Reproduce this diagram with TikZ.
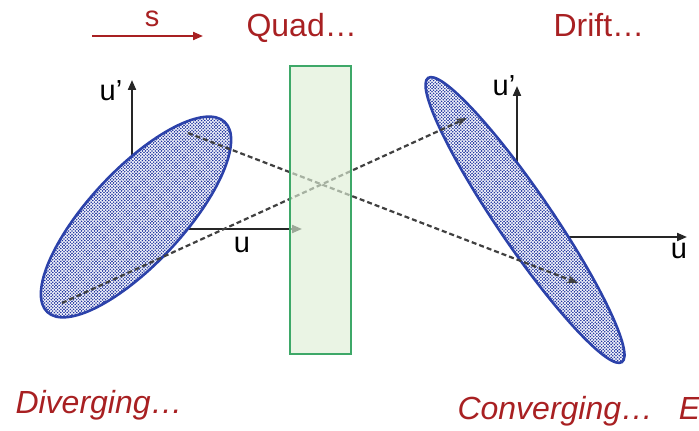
\documentclass[tikz,border=0pt]{standalone}
\usepackage{fontspec}
\setmainfont{Liberation Sans}
\usetikzlibrary{shapes.geometric,patterns,arrows.meta}
\definecolor{cdred}{RGB}{168,32,34}
\definecolor{cblue}{RGB}{44,66,170}
\definecolor{cdot}{RGB}{34,54,160}
\definecolor{cgreen}{RGB}{62,168,104}
\definecolor{cgfill}{RGB}{222,238,214}
\pgfdeclarepatternformonly{beamdots}{\pgfqpoint{-1pt}{-1pt}}{\pgfqpoint{4pt}{4pt}}{\pgfqpoint{3.2pt}{3.2pt}}
{
  \pgfpathcircle{\pgfqpoint{0pt}{0pt}}{.9pt}
  \pgfpathcircle{\pgfqpoint{1.6pt}{1.6pt}}{.9pt}
  \pgfusepath{fill}
}
\tikzset{
  emit/.style={x=1pt,y=1pt},
  beam/.style={ellipse,draw=cblue,line width=2.6pt,inner sep=0pt,outer sep=0pt,
    preaction={fill=white},pattern=beamdots,pattern color=cdot},
  axis/.style={black!85,line width=2pt,-{Triangle[length=10pt,width=8pt]}},
  ray/.style={black!75,line width=2.2pt,dash pattern=on 5pt off 3pt,-{Stealth[length=11pt,width=8pt]}},
  redlbl/.style={cdred,anchor=base west,font=\fontsize{32}{36}\selectfont},
  axlbl/.style={black,font=\fontsize{29}{32}\selectfont}
}

\begin{document}
\begin{tikzpicture}[emit]
    \useasboundingbox (0,0) rectangle (699,431);
    % beam direction
    \coordinate (s0) at (92,395);
    \coordinate (s1) at (203,395);
    \draw[cdred,line width=2pt,-{Triangle[length=10pt,width=8pt]}] (s0) -- (s1);
    \node[cdred,font=\fontsize{29}{32}\selectfont] (slbl) at (152,412) {s};
    \node[redlbl] (quad) at (243,394) {Quad…};
    \node[redlbl] (drift) at (550,394) {Drift…};
    \node[redlbl,font=\fontsize{32}{36}\itshape] (div) at (12,17) {Diverging…};
    \node[redlbl,font=\fontsize{32}{36}\itshape] (conv) at (454,11) {Converging…\hspace{0.8em}E};
    % phase-space axes
    \coordinate (oL) at (132,202);
    \coordinate (oR) at (517,194);
    \draw[axis] (oL) -- ++(0,149) coordinate (oLy);
    \draw[axis] (oL) -- ++(170,0) coordinate (oLx);
    \draw[axis] (oR) -- ++(0,151) coordinate (oRy);
    \draw[axis] (oR) -- ++(170,0) coordinate (oRx);
    \node[axlbl] (uyL) at (111,340) {u’};
    \node[axlbl] (uxL) at (242,186) {u};
    \node[axlbl] (uyR) at (504,345) {u’};
    \node[axlbl] (uxR) at (679,180) {u};
    % emittance ellipses
    \node[beam,minimum width=260,minimum height=94,rotate=47] (beamL) at (136,214) {};
    \node[beam,minimum width=344,minimum height=54,rotate=-55.7] (beamR) at (525,211) {};
    % rays
    \coordinate (a0) at (188,298);
    \coordinate (a1) at (578,148);
    \coordinate (b0) at (62,128);
    \coordinate (b1) at (467,313);
    \draw[ray] (a0) -- (a1);
    \draw[ray] (b0) -- (b1);
    % quadrupole
    \node[draw=cgreen,line width=2pt,fill=cgfill,fill opacity=0.65,draw opacity=1,
      minimum width=61,minimum height=288,inner sep=0pt] (quadbox) at (320.5,221) {};
\end{tikzpicture}
\end{document}
